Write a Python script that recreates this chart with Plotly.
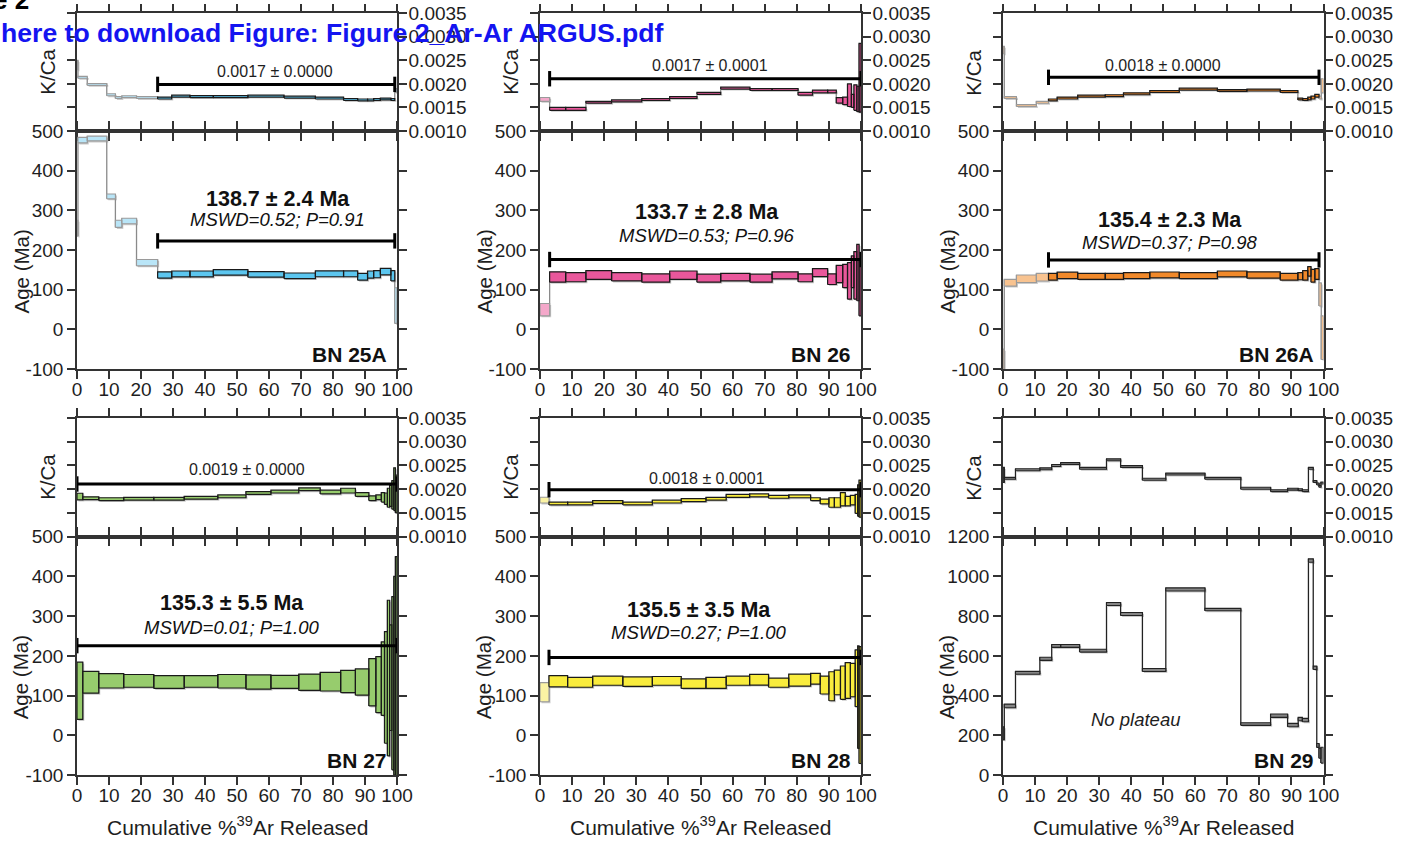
import plotly.graph_objects as go

W, H = 1407, 843
FONT = "Liberation Sans, Arial, Helvetica, sans-serif"
INK = "#1e1e1e"
AXC = "#333333"

# ---------------- data ----------------
sample_names = ["BN 25A", "BN 26", "BN 26A", "BN 27", "BN 28", "BN 29"]

x_ticks = [0, 10, 20, 30, 40, 50, 60, 70, 80, 90, 100]
x_tick_labels = ["0", "10", "20", "30", "40", "50", "60", "70", "80", "90", "100"]
kca_ticks = [0.0010, 0.0015, 0.0020, 0.0025, 0.0030, 0.0035]
kca_tick_labels = ["0.0010", "0.0015", "0.0020", "0.0025", "0.0030", "0.0035"]
age_ticks = [-100, 0, 100, 200, 300, 400, 500]
age_tick_labels = ["-100", "0", "100", "200", "300", "400", "500"]
age_ticks_29 = [0, 200, 400, 600, 800, 1000, 1200]
age_tick_labels_29 = ["0", "200", "400", "600", "800", "1000", "1200"]

# BN 25A
bn25a_cum = [0, 0.3, 3.2, 9.3, 12.0, 14.0, 18.6, 25.2, 29.6, 35.3, 42.6, 53.4, 64.7, 74.5, 83.3, 87.7, 90.8, 92.7, 94.8, 98.1, 99.3, 100]
bn25a_age = [255, 477, 481, 335, 266, 273, 168, 137, 139.5, 139.5, 143.5, 138.5, 135, 140, 140, 132.5, 138, 139, 145.5, 135, 60]
bn25a_age_err = [20, 7, 6, 6, 9, 7, 8, 8, 7.5, 7.5, 7, 7, 7, 7.5, 7.5, 8.5, 9, 9, 8, 13, 45]
bn25a_kca = [0.00240, 0.00214, 0.00199, 0.00177, 0.00171, 0.00173, 0.00171, 0.00170, 0.00174, 0.00173, 0.00173,
             0.00174, 0.00172, 0.00170, 0.00167, 0.00166, 0.00166, 0.00167, 0.00168, 0.00167, 0.00186]
bn25a_kca_err = [0.00010, 0.00002, 0.00002, 0.00002, 0.00002, 0.00002, 0.00002, 0.00002, 0.00002, 0.00002, 0.00002,
                 0.00002, 0.00002, 0.00002, 0.00002, 0.00002, 0.00002, 0.00002, 0.00002, 0.00002, 0.00004]

# BN 26
bn26_cum = [0, 3.0, 8.0, 14.3, 22.3, 31.7, 40.4, 48.9, 56.3, 65.4, 72.3, 80.4, 84.9, 89.6, 92.3, 94.3, 95.8, 97.0, 97.8, 98.7, 99.4, 100]
bn26_age = [49.5, 132, 131.5, 137, 132.5, 129.5, 136.5, 129, 131.5, 129, 136, 130, 143, 126.5, 139.5, 134.5, 122, 145, 136, 143, 105]
bn26_age_err = [15.5, 13, 11.5, 11, 10.5, 10.5, 10.5, 10, 9.5, 10, 9, 10, 10, 13.5, 21.5, 29.5, 46, 40, 60, 71, 71]
bn26_kca = [0.00167, 0.00147, 0.00147, 0.00161, 0.00164, 0.00167, 0.00171, 0.00180, 0.00191, 0.00188, 0.00188,
            0.00179, 0.00184, 0.00184, 0.00165, 0.00164, 0.00176, 0.00164, 0.00171, 0.00168, 0.00213]
bn26_kca_err = [0.00004, 0.00003, 0.00003, 0.00002, 0.00002, 0.00002, 0.00002, 0.00002, 0.00002, 0.00002, 0.00002,
                0.00003, 0.00003, 0.00003, 0.00006, 0.00008, 0.00024, 0.00014, 0.00027, 0.00027, 0.00073]

# BN 26A
bn26a_cum = [0, 0.4, 4.2, 10.4, 14.2, 16.9, 23.3, 31.9, 37.6, 45.8, 55.0, 66.9, 76.1, 86.5, 92.0, 93.5, 95.1, 96.1, 97.3, 98.6, 99.3, 100]
bn26a_age = [-80, 117.5, 127.5, 131.5, 132.5, 136, 133.5, 133.5, 135.5, 137, 135.5, 139.5, 137, 132.5, 134, 136, 146, 135, 139.5, 88, -21]
bn26a_age_err = [30, 8.5, 9.5, 9.5, 8.5, 8, 7.5, 7.5, 7.5, 7.5, 7.5, 7.5, 8, 8.5, 9, 12, 12, 16, 13.5, 29, 55]
bn26a_kca = [0.00272, 0.00171, 0.00154, 0.00161, 0.00166, 0.00170, 0.00174, 0.00175, 0.00179, 0.00184, 0.00189,
             0.00186, 0.00187, 0.00184, 0.00168, 0.00167, 0.00169, 0.00171, 0.00175, 0.00171, 0.00196]
bn26a_kca_err = [0.00008, 0.00002, 0.00002, 0.00002, 0.00002, 0.00002, 0.00002, 0.00002, 0.00002, 0.00002, 0.00002,
                 0.00002, 0.00002, 0.00002, 0.00002, 0.00002, 0.00003, 0.00003, 0.00003, 0.00003, 0.00015]

# BN 27
bn27_cum = [0, 1.8, 6.8, 14.6, 24.0, 33.5, 44.0, 52.8, 60.6, 69.3, 76.0, 82.4, 87.0, 91.2, 93.4, 95.1, 96.1, 97.0, 97.7, 98.4, 99.0, 99.5, 100]
bn27_age = [112, 133.5, 137, 137, 134, 135.5, 136, 134, 134.5, 133.5, 135, 135.5, 134, 133.5, 127.5, 142.5, 120.5, 144, 145, 131, 150, 150]
bn27_age_err = [72, 27.5, 18, 16, 16, 14.5, 17, 18, 16.5, 20.5, 23.5, 28, 33, 59.5, 70.5, 92.5, 140.5, 196, 133, 218, 250, 300]
bn27_kca = [0.001845, 0.00181, 0.00179, 0.00180, 0.00180, 0.00182, 0.00185, 0.00192, 0.00195, 0.00200, 0.00194,
            0.00197, 0.00189, 0.00181, 0.00183, 0.00183, 0.00180, 0.00182, 0.00186, 0.00188, 0.00200, 0.00190]
bn27_kca_err = [0.00007, 0.00003, 0.00003, 0.00003, 0.00003, 0.00003, 0.00003, 0.00003, 0.00003, 0.00003, 0.00004,
                0.00005, 0.00004, 0.00005, 0.00005, 0.00010, 0.00012, 0.00020, 0.00022, 0.00030, 0.00045, 0.00040]

# BN 28
bn28_cum = [0, 2.8, 8.6, 16.4, 25.8, 35.0, 44.0, 51.7, 58.0, 65.3, 71.2, 77.5, 84.3, 87.3, 90.0, 91.7, 93.6, 95.1, 96.7, 98.2, 98.96, 99.4, 100]
bn28_age = [108.6, 136, 133.5, 137.5, 135, 137, 130, 132, 137.5, 140, 132.5, 139, 142.5, 126.5, 123.5, 133, 132.5, 138, 139, 143.5, 96, 76]
bn28_age_err = [24, 14, 12.5, 11.5, 12, 11, 12, 14, 11.5, 13.5, 11.5, 15, 13.5, 22.5, 36.5, 31, 42, 45, 42, 71.5, 129, 147]
bn28_kca = [0.00177, 0.00170, 0.00170, 0.00173, 0.00170, 0.00174, 0.00177, 0.00180, 0.00186, 0.00187, 0.00184,
            0.00185, 0.00179, 0.00174, 0.00172, 0.00172, 0.00179, 0.00175, 0.00177, 0.00169, 0.00176, 0.00180]
bn28_kca_err = [0.00006, 0.00003, 0.00003, 0.00003, 0.00003, 0.00003, 0.00003, 0.00003, 0.00003, 0.00003, 0.00003,
                0.00003, 0.00003, 0.00005, 0.00010, 0.00010, 0.00014, 0.00010, 0.00010, 0.00020, 0.00033, 0.00039]

# BN 29
bn29_cum = [0, 0.4, 3.9, 11.5, 15.2, 18.0, 23.9, 32.3, 36.7, 43.5, 50.8, 63.0, 74.2, 83.5, 88.8, 92.1, 93.4, 95.3, 96.8, 97.9, 98.6, 99.2, 100]
bn29_age = [210, 348, 514.5, 585, 650, 650, 626, 861, 811, 529, 934.5, 833, 256.5, 298.5, 251.5, 281.5, 276.5, 1080, 540, 149, 109, 100]
bn29_age_err = [33, 9, 7.5, 8, 7.5, 7.5, 7, 7.5, 7.5, 7.5, 8, 6, 6.5, 8.5, 8.5, 8.5, 8.5, 8.5, 8.5, 10, 25, 40]
bn29_kca = [0.00230, 0.00223, 0.00241, 0.00243, 0.00250, 0.00254, 0.00244, 0.00262, 0.00248, 0.00221, 0.00232,
            0.00223, 0.00202, 0.00197, 0.00200, 0.00199, 0.00197, 0.00244, 0.00216, 0.00211, 0.00206, 0.00213]
bn29_kca_err = [0.00016, 0.00002, 0.00002, 0.00002, 0.00002, 0.00002, 0.00002, 0.00002, 0.00002, 0.00002, 0.00002,
                0.00002, 0.00002, 0.00002, 0.00002, 0.00002, 0.00002, 0.00002, 0.00002, 0.00002, 0.00002, 0.00002]

# plateau step index ranges (first, last) ; None = no plateau
plateau_steps = [(7, 19), (1, 20), (4, 18), (0, 21), (1, 21), None]
plateau_age_text = ["138.7 ± 2.4 Ma", "133.7 ± 2.8 Ma", "135.4 ± 2.3 Ma", "135.3 ± 5.5 Ma", "135.5 ± 3.5 Ma", None]
plateau_mswd_text = ["MSWD=0.52; P=0.91", "MSWD=0.53; P=0.96", "MSWD=0.37; P=0.98",
                     "MSWD=0.01; P=1.00", "MSWD=0.27; P=1.00", None]
plateau_kca_text = ["0.0017 ± 0.0000", "0.0017 ± 0.0001", "0.0018 ± 0.0000", "0.0019 ± 0.0000", "0.0018 ± 0.0001", None]
plateau_bar_age = [223, 176, 175, 225.7, 196, None]
plateau_bar_kca = [0.00199, 0.00211, 0.00214, 0.00211, 0.00199, None]

# ---------------- styles / positions ----------------
colors = [("#5cc6ef", "#b9e5f7"), ("#e9579b", "#f4a8ca"), ("#f1892a", "#f8c390"),
          ("#97cc6d", "#c8e4b2"), ("#f9ec3d", "#fbf3a4"), ("#858585", "#858585")]
label_x = [62.8, 52, 52, 48.4, 49.4]
title_y = [329, 296, 276, 332, 315]
mswd_y = [277, 237, 218, 272, 258]
kca_label_x = [62, 52.9, 49.9, 53, 52]
kca_label_y = [0.00227, 0.00239, 0.00239, 0.00241, 0.00222]

cols = [(77.0, 397.0), (540.0, 861.0), (1003.0, 1323.5)]
rows = [(13.3, 131.0, 369.0), (418.0, 536.7, 775.0)]

samples = [
    (bn25a_cum, bn25a_age, bn25a_age_err, bn25a_kca, bn25a_kca_err),
    (bn26_cum, bn26_age, bn26_age_err, bn26_kca, bn26_kca_err),
    (bn26a_cum, bn26a_age, bn26a_age_err, bn26a_kca, bn26a_kca_err),
    (bn27_cum, bn27_age, bn27_age_err, bn27_kca, bn27_kca_err),
    (bn28_cum, bn28_age, bn28_age_err, bn28_kca, bn28_kca_err),
    (bn29_cum, bn29_age, bn29_age_err, bn29_kca, bn29_kca_err),
]


def ref(letter, n):
    return letter if n == 1 else f"{letter}{n}"


def lname(letter, n):
    return f"{letter}axis" if n == 1 else f"{letter}axis{n}"


def pxx(p):
    return p / W


def pxy(p):
    return 1 - p / H


def boxes(cum, val, err, idx, dx=0.0, dy=0.0):
    xs, ys = [], []
    for k in idx:
        a, b = cum[k] + dx, cum[k + 1] + dx
        lo, hi = val[k] - err[k] + dy, val[k] + err[k] + dy
        xs += [a, b, b, a, a, None]
        ys += [lo, lo, hi, hi, lo, None]
    return xs, ys


def connectors(cum, val, err):
    xs, ys = [], []
    for k in range(len(val) - 1):
        x = cum[k + 1]
        lo = min(val[k] - err[k], val[k + 1] - err[k + 1])
        hi = max(val[k] + err[k], val[k + 1] + err[k + 1])
        xs += [x, x, None]
        ys += [lo, hi, None]
    return xs, ys


fig = go.Figure()
annotations = []
axes = {}

TICK = 19
common = dict(showline=True, linecolor=AXC, linewidth=1.5, ticks="outside", ticklen=8, tickwidth=1.5,
              tickcolor=AXC, mirror="ticks", showgrid=False, zeroline=False, fixedrange=True,
              automargin=False, tickfont=dict(family=FONT, size=TICK, color=INK))


def paper_text(xp, yp, text, size, angle=0, color=INK, xanchor="center"):
    return dict(xref="paper", yref="paper", x=pxx(xp), y=pxy(yp), xanchor=xanchor, yanchor="middle",
                text=text, textangle=angle, showarrow=False, font=dict(family=FONT, size=size, color=color))


for i, name in enumerate(sample_names):
    cum, age, age_err, kca, kca_err = samples[i]
    r, c = divmod(i, 3)
    xl, xr = cols[c]
    top, mid, bot = rows[r]
    nk, na = 2 * i + 1, 2 * i + 2
    xk, yk, xa, ya = ref("x", nk), ref("y", nk), ref("x", na), ref("y", na)
    if i == 5:
        yrange, yt, ytl = [0, 1200], age_ticks_29, age_tick_labels_29
    else:
        yrange, yt, ytl = [-100, 500], age_ticks, age_tick_labels

    axes[lname("x", nk)] = dict(common, domain=[pxx(xl), pxx(xr)], anchor=yk, side="top", range=[0, 100],
                                tickvals=x_ticks, showticklabels=False)
    axes[lname("y", nk)] = dict(common, domain=[pxy(mid), pxy(top)], anchor=xk, side="right",
                                range=[0.0010, 0.0035], tickvals=kca_ticks, ticktext=kca_tick_labels,
                                ticklabelstandoff=-2)
    axes[lname("x", na)] = dict(common, domain=[pxx(xl), pxx(xr)], anchor=ya, side="bottom", range=[0, 100],
                                tickvals=x_ticks, ticktext=x_tick_labels, ticklabelstandoff=-6)
    axes[lname("y", na)] = dict(common, domain=[pxy(bot), pxy(mid)], anchor=xa, side="left",
                                range=yrange, tickvals=yt, ticktext=ytl)

    full, light = colors[i]
    pl = plateau_steps[i]
    n = len(age)
    in_pl = [pl is not None and pl[0] <= k <= pl[1] for k in range(n)]
    pl_idx = [k for k in range(n) if in_pl[k]]
    np_idx = [k for k in range(n) if not in_pl[k]]

    pxu_x = (xr - xl) / 100.0
    shadow_dx = 1.5 / pxu_x
    for (val, err, xref_, yref_, ppu) in [
        (kca, kca_err, xk, yk, (mid - top) / 0.0025),
        (age, age_err, xa, ya, (bot - mid) / (yrange[1] - yrange[0])),
    ]:
        shadow_dy = -1.5 / ppu
        sx, sy = boxes(cum, val, err, range(n), shadow_dx, shadow_dy)
        fig.add_trace(go.Scatter(x=sx, y=sy, xaxis=xref_, yaxis=yref_, mode="lines", fill="toself",
                                 fillcolor="rgba(150,150,150,0.5)", line=dict(width=0),
                                 hoverinfo="skip", showlegend=False))
        cx, cy = connectors(cum, val, err)
        fig.add_trace(go.Scatter(x=cx, y=cy, xaxis=xref_, yaxis=yref_, mode="lines",
                                 line=dict(color="#222222" if i == 5 else "#8a8a8a", width=1.3),
                                 hoverinfo="skip", showlegend=False))
        if np_idx:
            bx, by = boxes(cum, val, err, np_idx)
            fig.add_trace(go.Scatter(x=bx, y=by, xaxis=xref_, yaxis=yref_, mode="lines", fill="toself",
                                     fillcolor=light,
                                     line=dict(color="#222222" if i == 5 else "#9a9a9a", width=1.1),
                                     hoverinfo="skip", showlegend=False))
        if pl_idx:
            bx, by = boxes(cum, val, err, pl_idx)
            fig.add_trace(go.Scatter(x=bx, y=by, xaxis=xref_, yaxis=yref_, mode="lines", fill="toself",
                                     fillcolor=full, line=dict(color="#1a1a1a", width=1.2),
                                     hoverinfo="skip", showlegend=False))

    if pl is not None:
        x0p, x1p = cum[pl[0]], cum[pl[1] + 1]
        for (yv, xref_, yref_) in [(plateau_bar_age[i], xa, ya), (plateau_bar_kca[i], xk, yk)]:
            fig.add_trace(go.Scatter(x=[x0p, x1p], y=[yv, yv], xaxis=xref_, yaxis=yref_, mode="lines+markers",
                                     line=dict(color="#000000", width=3),
                                     marker=dict(symbol="line-ns-open", size=11,
                                                 line=dict(color="#000000", width=3)),
                                     cliponaxis=False, hoverinfo="skip", showlegend=False))
        annotations.append(dict(xref=xa, yref=ya, x=label_x[i], y=title_y[i], xanchor="center", yanchor="middle",
                                text=f"<b>{plateau_age_text[i]}</b>", showarrow=False,
                                font=dict(family=FONT, size=21.5, color="#111111")))
        annotations.append(dict(xref=xa, yref=ya, x=label_x[i], y=mswd_y[i], xanchor="center", yanchor="middle",
                                text=f"<i>{plateau_mswd_text[i]}</i>", showarrow=False,
                                font=dict(family=FONT, size=18.5, color="#111111")))
        annotations.append(dict(xref=xk, yref=yk, x=kca_label_x[i], y=kca_label_y[i], xanchor="center",
                                yanchor="middle", text=plateau_kca_text[i], showarrow=False,
                                font=dict(family=FONT, size=16, color=INK)))
    else:
        annotations.append(dict(xref=xa, yref=ya, x=41.3, y=282, xanchor="center", yanchor="middle",
                                text="<i>No plateau</i>", showarrow=False,
                                font=dict(family=FONT, size=18.5, color=INK)))

    annotations.append(dict(xref=xa, yref=ya, x=100, y=yrange[0], xanchor="right", yanchor="bottom",
                            xshift=-8, yshift=1, text=f"<b>{name}</b>", showarrow=False,
                            font=dict(family=FONT, size=21, color="#111111")))
    annotations.append(paper_text(xl - 29.5, (top + mid) / 2, "K/Ca", 20.5, angle=-90))
    annotations.append(paper_text(xl - 56.5, (mid + bot) / 2 + 22, "Age (Ma)", 20.5, angle=-90))
    if r == 1:
        annotations.append(paper_text((xl + xr) / 2, 826, "Cumulative %<sup>39</sup>Ar Released", 21))

annotations.append(paper_text(31, 0, "<b>e 2</b>", 26, color="#000000", xanchor="right"))
annotations.append(paper_text(-1, 32.5, "<b>here to download Figure: Figure 2_Ar-Ar ARGUS.pdf</b>", 26.6,
                              color="#1414f0", xanchor="left"))

fig.update_layout(width=W, height=H, autosize=False, margin=dict(l=0, r=0, t=0, b=0, pad=0),
                  paper_bgcolor="white", plot_bgcolor="white", showlegend=False,
                  annotations=annotations, **axes)

fig.write_html("out.html")
